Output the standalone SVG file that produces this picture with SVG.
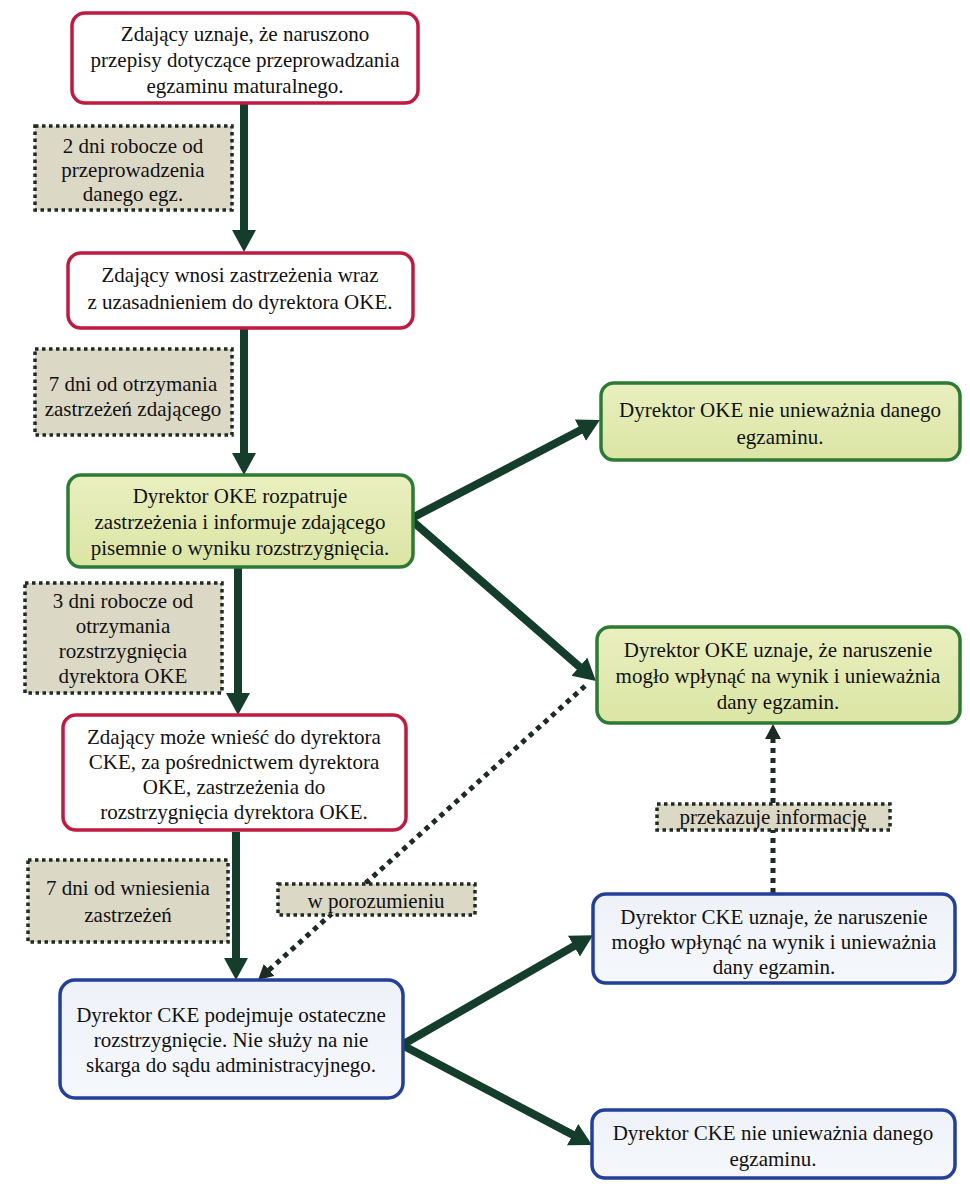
<svg xmlns="http://www.w3.org/2000/svg" width="970" height="1186" viewBox="0 0 970 1186">
<defs>
<linearGradient id="gGreen" x1="0" y1="0" x2="0" y2="1">
<stop offset="0" stop-color="#e9efbf"/>
<stop offset="1" stop-color="#dbe5a4"/>
</linearGradient>
<linearGradient id="gBlue" x1="0" y1="0" x2="0" y2="1">
<stop offset="0" stop-color="#eef2f8"/>
<stop offset="1" stop-color="#f5f7fb"/>
</linearGradient>
<marker id="ah" markerUnits="userSpaceOnUse" markerWidth="26" markerHeight="26" refX="2" refY="12" orient="auto">
<path d="M0,0 L22,12 L0,24 Z" fill="#143d2b"/>
</marker>
<marker id="ahs" markerUnits="userSpaceOnUse" markerWidth="18" markerHeight="18" refX="1" refY="8" orient="auto">
<path d="M0,0 L15,8 L0,16 Z" fill="#1c2b23"/>
</marker>
</defs>
<style>
text{font-family:'Liberation Serif','Times New Roman',Tinos,'DejaVu Serif',serif;font-size:21px;fill:#111;text-anchor:middle}
.red{fill:#ffffff;stroke:#bf1a40;stroke-width:3.5}
.green{fill:url(#gGreen);stroke:#2d7a34;stroke-width:3.5}
.blue{fill:url(#gBlue);stroke:#233f98;stroke-width:3.5}
.lbl{fill:#dcd8c6;stroke:#1e2a22;stroke-width:3.5;stroke-dasharray:3.5 3.5}
.conn{fill:none;stroke:#143d2b;stroke-width:8}
.dot{fill:none;stroke:#1c2b23;stroke-width:5;stroke-dasharray:5 5}
</style>
<rect width="970" height="1186" fill="#ffffff"/>

<g id="connectors">
<line class="conn" x1="244" y1="103" x2="244" y2="232" marker-end="url(#ah)"/>
<line class="conn" x1="244" y1="328" x2="244" y2="455" marker-end="url(#ah)"/>
<line class="conn" x1="238" y1="567" x2="238" y2="695" marker-end="url(#ah)"/>
<line class="conn" x1="236" y1="832" x2="236" y2="960" marker-end="url(#ah)"/>
<line class="conn" x1="410" y1="519" x2="582.2" y2="429.3" marker-end="url(#ah)"/>
<line class="conn" x1="410" y1="519" x2="580.9" y2="667.9" marker-end="url(#ah)"/>
<line class="conn" x1="402" y1="1045" x2="575.7" y2="945.1" marker-end="url(#ah)"/>
<line class="conn" x1="402" y1="1045" x2="574.4" y2="1135.6" marker-end="url(#ah)"/>
<line class="dot" x1="585" y1="686" x2="268.4" y2="970.6" marker-end="url(#ahs)"/>
<line class="dot" x1="773" y1="893" x2="773" y2="738" marker-end="url(#ahs)"/>
</g>

<g id="n1">
<rect class="red" x="72" y="13" width="346" height="90" rx="13"/>
<text x="245" y="41">Zdający uznaje, że naruszono</text>
<text x="245" y="67">przepisy dotyczące przeprowadzania</text>
<text x="245" y="93">egzaminu maturalnego.</text>
</g>

<g id="l1">
<rect class="lbl" x="35" y="126" width="197" height="84"/>
<text x="133" y="153">2 dni robocze od</text>
<text x="133" y="177">przeprowadzenia</text>
<text x="133" y="201">danego egz.</text>
</g>

<g id="n2">
<rect class="red" x="68" y="253" width="345" height="75" rx="13"/>
<text x="240" y="282">Zdający wnosi zastrzeżenia wraz</text>
<text x="240" y="309">z uzasadnieniem do dyrektora OKE.</text>
</g>

<g id="l2">
<rect class="lbl" x="35" y="349" width="197" height="86"/>
<text x="133" y="391">7 dni od otrzymania</text>
<text x="133" y="416">zastrzeżeń zdającego</text>
</g>

<g id="n3">
<rect class="green" x="68" y="475" width="345" height="92" rx="13"/>
<text x="240" y="503">Dyrektor OKE rozpatruje</text>
<text x="240" y="529">zastrzeżenia i informuje zdającego</text>
<text x="240" y="555">pisemnie o wyniku rozstrzygnięcia.</text>
</g>

<g id="l3">
<rect class="lbl" x="25" y="583" width="197" height="110"/>
<text x="123" y="608">3 dni robocze od</text>
<text x="123" y="633">otrzymania</text>
<text x="123" y="658">rozstrzygnięcia</text>
<text x="123" y="683">dyrektora OKE</text>
</g>

<g id="n4">
<rect class="red" x="63" y="715" width="343" height="115" rx="13"/>
<text x="234" y="744">Zdający może wnieść do dyrektora</text>
<text x="234" y="769">CKE, za pośrednictwem dyrektora</text>
<text x="234" y="794">OKE, zastrzeżenia do</text>
<text x="234" y="819">rozstrzygnięcia dyrektora OKE.</text>
</g>

<g id="l4">
<rect class="lbl" x="28" y="860" width="200" height="82"/>
<text x="128" y="895">7 dni od wniesienia</text>
<text x="128" y="922">zastrzeżeń</text>
</g>

<g id="l5">
<rect class="lbl" x="278" y="884" width="197" height="31"/>
<text x="376" y="908">w porozumieniu</text>
</g>

<g id="n5">
<rect class="blue" x="60" y="980" width="343" height="118" rx="15"/>
<text x="231" y="1022">Dyrektor CKE podejmuje ostateczne</text>
<text x="231" y="1047">rozstrzygnięcie. Nie służy na nie</text>
<text x="231" y="1072">skarga do sądu administracyjnego.</text>
</g>

<g id="n6">
<rect class="green" x="601" y="383" width="359" height="77" rx="13"/>
<text x="780" y="417">Dyrektor OKE nie unieważnia danego</text>
<text x="780" y="444">egzaminu.</text>
</g>

<g id="n7">
<rect class="green" x="597" y="627" width="363" height="96" rx="13"/>
<text x="778" y="657">Dyrektor OKE uznaje, że naruszenie</text>
<text x="778" y="683">mogło wpłynąć na wynik i unieważnia</text>
<text x="778" y="709">dany egzamin.</text>
</g>

<g id="l6">
<rect class="lbl" x="657" y="804" width="233" height="26"/>
<text x="773" y="824">przekazuje informację</text>
</g>

<g id="n8">
<rect class="blue" x="593" y="894" width="362" height="89" rx="13"/>
<text x="774" y="924">Dyrektor CKE uznaje, że naruszenie</text>
<text x="774" y="949">mogło wpłynąć na wynik i unieważnia</text>
<text x="774" y="974">dany egzamin.</text>
</g>

<g id="n9">
<rect class="blue" x="592" y="1110" width="363" height="68" rx="13"/>
<text x="773" y="1140">Dyrektor CKE nie unieważnia danego</text>
<text x="773" y="1166">egzaminu.</text>
</g>
</svg>
